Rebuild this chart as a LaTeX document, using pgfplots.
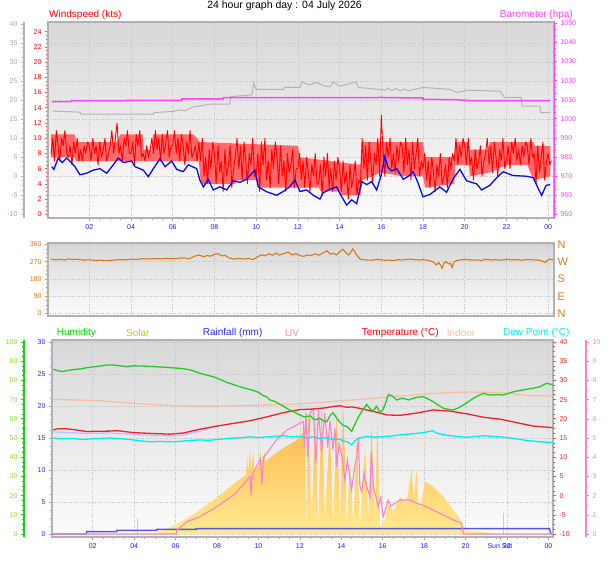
\documentclass[border=0pt]{standalone}
\usepackage{pgfplots}
\pgfplotsset{compat=1.18}
\usepackage{fontspec}
\setmainfont{Liberation Sans}
\definecolor{wsred}{RGB}{255,0,0}
\definecolor{wsband}{RGB}{255,105,105}
\definecolor{baro}{RGB}{255,64,255}
\definecolor{grayline}{RGB}{180,180,180}
\definecolor{graylab}{RGB}{170,170,170}
\definecolor{avgblue}{RGB}{10,10,235}
\definecolor{xlab}{RGB}{30,30,255}
\definecolor{dir}{RGB}{216,120,24}
\definecolor{hum}{RGB}{34,204,34}
\definecolor{humaxis}{RGB}{20,210,20}
\definecolor{humlab}{RGB}{140,220,40}
\definecolor{humleg}{RGB}{0,215,0}
\definecolor{solarleg}{RGB}{200,200,0}
\definecolor{solartop}{RGB}{255,178,70}
\definecolor{solarbot}{RGB}{255,234,145}
\definecolor{rain}{RGB}{85,85,225}
\definecolor{rainlab}{RGB}{40,40,255}
\definecolor{raintick}{RGB}{150,150,255}
\definecolor{uv}{RGB}{245,135,200}
\definecolor{temp}{RGB}{235,35,35}
\definecolor{indoor}{RGB}{245,190,165}
\definecolor{dew}{RGB}{0,238,238}
\definecolor{appt}{RGB}{190,190,255}
\definecolor{framec}{RGB}{178,178,178}
\definecolor{gridc}{RGB}{195,195,195}
\definecolor{bgtop}{RGB}{216,216,216}
\definecolor{bgbot}{RGB}{252,252,252}
\pgfplotsset{
  every axis/.append style={
    scale only axis, anchor=south west,
    /pgf/number format/assume math mode=true,
    /pgf/number format/1000 sep={},
    tick label style={font=\fontsize{7}{8}\selectfont},
    tick align=outside, major tick length=3pt, minor tick length=1.8pt,
  },
  panel/.style={
    axis background/.style={top color=bgtop, bottom color=bgbot},
    axis line style={draw=framec, line width=1.2pt},
    xtick pos=bottom, ytick pos=left,
    xmajorgrids, major grid style={draw=gridc, dotted, line width=0.6pt},
    xtick={2,4,...,24}, minor x tick num=3,
    xtick style={draw=gray!70, line width=0.6pt},
    x tick label style={text=xlab},
  },
  side/.style={hide x axis, y axis line style={-}},
}
\begin{document}
\begin{tikzpicture}
\useasboundingbox (0pt,0pt) rectangle (608pt,-561pt);

% ================= TOP PANEL =================
\begin{axis}[panel, at={(48pt,-218pt)}, width=506pt, height=196pt,
  xmin=0.02, xmax=24.28, ymin=-0.486, ymax=25.27,
  xticklabels={02,04,06,08,10,12,14,16,18,20,22,00},
  ytick={0,2,...,24}, minor y tick num=3,
  y tick label style={text=wsred},
  ytick style={draw=wsred!70, line width=0.6pt},
  extra y ticks={2.5,5,7.5,10,12.5,15,17.5,20,22.5}, extra y tick labels={},
  extra y tick style={grid=major, major tick length=0pt},
]
% gust band (envelope of the dense gust trace)
\addplot[draw=none, fill=wsband] coordinates {
(0.17,10.5)(1.3,10.5)(1.35,9.5)(3.3,9.5)(3.5,10.5)(4.55,10.5)(4.6,8.5)(5.0,8.5)(5.05,10.5)
(7.0,10.5)(7.3,9.5)(12.0,9.0)(12.1,7.5)(15.0,6.5)(15.1,9.5)(18.0,9.5)(18.1,7.5)(19.5,7.5)
(19.55,9.5)(20.2,9.5)(20.25,8.5)(21.1,8.5)(21.2,9.5)(23.3,9.5)(23.35,9)(24.1,9)
(24.1,5)(23.3,4.5)(23.0,6.5)(22.0,6.5)(21.2,5.5)(20.25,5)(20.2,6.5)(19.55,6.5)(19.5,4)
(18.1,3.5)(18.0,5)(17.0,5)(16.0,5.5)(15.1,4.5)(15.0,2.5)(14.1,2.5)(14.0,3)(13.1,3)
(13.0,3.5)(10.1,3.5)(10.0,4.5)(9.1,4.5)(9.0,4)(7.35,4)(7.25,7)(1.35,7)(1.3,7.5)(0.17,7.5)
};
\addplot[color=wsred, line width=0.9pt, line join=round, line cap=round] coordinates {
(0.17,8)(0.25,10)(0.33,7)(0.42,11)(0.50,9)(0.58,7)(0.67,10)(0.75,9)(0.83,11)(0.92,8)
(1.00,7.5)(1.08,9)(1.17,6.5)(1.25,9.5)(1.33,8)(1.42,10)(1.50,7)(1.58,8.5)(1.67,7)(1.75,9)(1.83,8)(1.92,9.5)
(2.00,9)(2.08,7)(2.17,10)(2.25,8)(2.33,9)(2.42,6.5)(2.50,9.5)(2.58,7.5)(2.67,8.5)(2.75,10)(2.83,7)(2.92,8)
(3.00,9)(3.08,11)(3.17,8)(3.25,10)(3.33,12)(3.42,8)(3.50,9)(3.58,7)(3.67,10)(3.75,9)(3.83,11)(3.92,8)
(4.00,8)(4.08,9.5)(4.17,6.5)(4.25,10.5)(4.33,9)(4.42,11)(4.50,7.5)(4.58,8)(4.67,7)(4.75,9)(4.83,7.5)(4.92,8.5)
(5.00,10)(5.08,8)(5.17,11)(5.25,8.5)(5.33,10)(5.42,7)(5.50,10.5)(5.58,8)(5.67,9.5)(5.75,11)(5.83,7.5)(5.92,9)
(6.00,9)(6.08,11)(6.17,8)(6.25,10)(6.33,7)(6.42,10.5)(6.50,9)(6.58,6.5)(6.67,9.5)(6.75,8)(6.83,11)(6.92,7.5)
(7.00,8)(7.08,9)(7.17,7)(7.25,9.5)(7.33,7)(7.42,10)(7.50,5)(7.58,7.5)(7.67,4)(7.75,8.5)(7.83,6)(7.92,9.5)
(8.00,8)(8.08,4)(8.17,9)(8.25,5.5)(8.33,7)(8.42,3)(8.50,8.5)(8.58,5)(8.67,6.5)(8.75,9)(8.83,3.5)(8.92,6)
(9.00,7.5)(9.08,10)(9.17,6)(9.25,9)(9.33,4.5)(9.42,9.5)(9.50,7)(9.58,4)(9.67,8)(9.75,6.5)(9.83,10)(9.92,5)
(10.00,5)(10.08,8)(10.17,3)(10.25,9.5)(10.33,6.5)(10.42,10)(10.50,4.5)(10.58,7)(10.67,3.5)(10.75,8.5)(10.83,6)(10.92,9.5)
(11.00,7.5)(11.08,4)(11.17,9)(11.25,5)(11.33,7)(11.42,3)(11.50,8)(11.58,5.5)(11.67,6.5)(11.75,8.5)(11.83,3.5)(11.92,6)
(12.00,6)(12.08,8)(12.17,4.5)(12.25,7)(12.33,3.5)(12.42,7.5)(12.50,5.5)(12.58,3)(12.67,6.5)(12.75,5)(12.83,8)(12.92,4)
(13.00,4)(13.08,6.5)(13.17,2.5)(13.25,7.5)(13.33,5)(13.42,8)(13.50,3.5)(13.58,6)(13.67,3)(13.75,7)(13.83,4.5)(13.92,7.5)
(14.00,6)(14.08,3)(14.17,7)(14.25,4)(14.33,5.5)(14.42,2)(14.50,6.5)(14.58,3.5)(14.67,5)(14.75,7)(14.83,2.5)(14.92,4.5)
(15.00,4)(15.08,10)(15.17,6)(15.25,9)(15.33,4.5)(15.42,9.5)(15.50,7)(15.58,4)(15.67,8)(15.75,6.5)(15.83,10)(15.92,5)
(16.00,13)(16.08,8.5)(16.17,5)(16.25,9.5)(16.33,7.5)(16.42,10)(16.50,6)(16.58,8)(16.67,5.5)(16.75,9)(16.83,7)(16.92,9.5)
(17.00,9)(17.08,5.5)(17.17,10)(17.25,6.5)(17.33,8.5)(17.42,4.5)(17.50,9.5)(17.58,6)(17.67,8)(17.75,10)(17.83,5)(17.92,7)
(18.00,6)(18.08,8)(18.17,4.5)(18.25,7)(18.33,3.5)(18.42,7.5)(18.50,5.5)(18.58,3)(18.67,6.5)(18.75,5)(18.83,8)(18.92,4)
(19.00,5)(19.08,6.5)(19.17,3.5)(19.25,7.5)(19.33,6)(19.42,8)(19.50,7)(19.58,10)(19.67,6.5)(19.75,9)(19.83,7.5)(19.92,10)
(20.00,9)(20.08,6.5)(20.17,10)(20.25,6.5)(20.33,7.5)(20.42,4.5)(20.50,8.5)(20.58,6)(20.67,7)(20.75,9)(20.83,5)(20.92,7)
(21.00,8)(21.08,10)(21.17,6.5)(21.25,9)(21.33,5.5)(21.42,9.5)(21.50,7.5)(21.58,5)(21.67,8.5)(21.75,7)(21.83,10)(21.92,6)
(22.00,7)(22.08,9)(22.17,6)(22.25,9.5)(22.33,8)(22.42,10)(22.50,7)(22.58,8.5)(22.67,6.5)(22.75,9)(22.83,7.5)(22.92,9.5)
(23.00,9)(23.08,6.5)(23.17,10)(23.25,7.5)(23.33,8)(23.42,4)(23.50,9)(23.58,5.5)(23.67,7.5)(23.75,9.5)(23.83,4.5)(23.92,7)
(24.00,8)(24.08,6.5)(24.15,7)
};
\addplot[avgblue, line width=1.3pt] coordinates {
(0.2,6.26)(0.3,5.9)(0.51,7.4)(0.7,6.8)(0.92,7.4)(1.1,6.9)(1.31,6.26)(1.55,5.2)
(1.87,5.4)(2.19,5.8)(2.51,6.0)(2.83,5.4)(3.15,6.5)(3.39,7.4)(3.63,6.8)(4.03,7.0)
(4.19,6.26)(4.59,5.8)(4.83,4.95)(5.07,6.0)(5.39,7.3)(5.63,6.26)(5.95,7.0)(6.19,5.9)
(6.5,5.6)(6.75,6.5)(7.15,6.0)(7.3,4.5)(7.47,3.6)(7.7,4.6)(7.94,3.2)(8.26,3.6)
(8.59,3.2)(8.9,4.4)(9.22,4.2)(9.54,4.6)(9.94,5.8)(10.1,3.6)(10.5,2.97)(10.98,2.5)
(11.3,3.0)(11.6,3.6)(11.86,4.5)(12.1,3.0)(12.42,3.2)(12.74,2.5)(13.06,2.0)(13.2,2.8)
(13.54,3.3)(13.86,3.6)(14.0,2.8)(14.34,1.2)(14.58,1.9)(14.82,1.4)(15.06,4.3)(15.3,3.9)
(15.54,4.3)(15.78,3.2)(16.0,5.2)(16.17,7.6)(16.33,6.1)(16.5,5.7)(16.74,6.0)(17.05,4.6)
(17.3,5.0)(17.53,5.6)(17.75,4.2)(18.0,2.3)(18.33,2.6)(18.8,3.6)(19.13,2.9)(19.45,4.7)
(19.77,5.9)(20.09,4.4)(20.57,4.0)(20.81,3.2)(21.2,3.8)(21.6,5.0)(21.85,5.6)(22.3,5.1)
(22.97,5.0)(23.29,4.8)(23.52,3.4)(23.69,2.5)(23.9,3.8)(24.1,3.9)
};
\end{axis}

% gray axis (left, -10..40)
\begin{axis}[side, at={(24pt,-218pt)}, width=530pt, height=196pt,
  xmin=-1.131, xmax=24.28, ymin=-11.05, ymax=40.53,
  axis y line*=left, y axis line style={draw=grayline, line width=1.6pt},
  ytick={-10,-5,...,40}, minor y tick num=3,
  y tick label style={text=graylab},
  ytick style={draw=grayline, line width=0.6pt},
]
\addplot[grayline, line width=1pt] coordinates {
(0.27,17.1)(1.55,16.8)(1.6,16.3)(5.07,16.3)(5.1,16.7)(6.03,17.0)(6.3,17.4)(6.6,17.2)
(6.99,18.2)(7.4,18.5)(7.79,18.9)(8.74,18.9)(8.78,20.9)(9.7,21.3)(9.8,21.5)(9.88,24.4)
(10.0,22.8)(11.3,22.8)(11.35,23.3)(12.1,23.3)(12.2,24.8)(12.5,24.0)(12.9,24.6)(13.2,23.8)
(13.54,23.5)(13.7,24.8)(14.0,23.6)(14.3,24.0)(14.8,24.8)(14.9,23.3)(15.5,23.0)(15.9,22.8)
(16.2,22.6)(16.35,23.1)(16.5,22.5)(16.7,23.0)(16.9,22.4)(17.1,22.9)(17.3,22.4)(17.5,22.7)
(18.0,23.3)(19.3,22.8)(19.6,22.0)(20.2,22.6)(21.7,22.3)(21.9,20.7)(22.7,20.7)(22.75,18.4)
(23.6,18.4)(23.65,16.7)(24.1,16.7)
};
\end{axis}

% barometer axis (right)
\begin{axis}[side, at={(48pt,-218pt)}, width=506pt, height=196pt,
  xmin=0.02, xmax=24.28, ymin=948.06, ymax=1050.68,
  axis y line*=right, y axis line style={draw=baro, line width=0.8pt},
  ytick={950,960,...,1050}, minor y tick num=2,
  y tick label style={text=baro},
  ytick style={draw=baro, line width=0.6pt},
]
\addplot[baro, line width=1.5pt] coordinates {
(0.2,1009.0)(1.15,1009.0)(1.16,1009.5)(4.5,1009.6)(6.43,1009.7)(6.44,1010.4)(8.42,1010.4)
(8.43,1011.1)(15.85,1011.1)(16.0,1011.3)(16.1,1011.1)(18.0,1010.9)(18.01,1010.2)
(19.6,1010.0)(20.3,1009.5)(24.1,1009.5)
};
\end{axis}

% ================= MIDDLE PANEL (wind direction) =================
\begin{axis}[panel, at={(48pt,-316pt)}, width=506pt, height=73pt,
  xmin=0.02, xmax=24.28, ymin=-13.0, ymax=367.8,
  xticklabels={}, xtick style={draw=none},
  ytick={0,90,...,360}, minor y tick num=3, ymajorgrids,
  y tick label style={text=dir},
  ytick style={draw=dir!80, line width=0.6pt},
]
\addplot[dir, line width=1.1pt] coordinates {
(0.15,284)(0.4,280)(0.6,283)(0.8,279)(1.0,285)(1.2,281)(1.45,283)(1.7,279)(2.0,280)
(2.3,277)(2.5,279)(2.75,276)(2.95,277)(3.2,279)(3.5,281)(3.75,280)(4.0,284)(4.3,282)
(4.55,286)(4.8,284)(5.1,287)(5.4,285)(5.7,288)(6.13,286)(6.4,290)(6.6,289)(6.8,286)
(7.0,297)(7.25,305)(7.5,296)(7.65,303)(7.8,299)(8.0,308)(8.18,312)(8.35,300)(8.5,304)
(8.7,290)(8.93,284)(9.2,288)(9.4,284)(9.65,287)(9.86,281)(10.1,298)(10.25,306)(10.42,301)
(10.6,311)(10.8,304)(10.95,316)(11.1,305)(11.3,312)(11.54,320)(11.7,306)(11.9,312)(12.1,302)
(12.29,298)(12.45,306)(12.6,302)(12.85,312)(13.0,304)(13.2,316)(13.4,327)(13.55,310)(13.7,314)
(13.85,306)(14.0,322)(14.16,335)(14.3,318)(14.44,305)(14.55,322)(14.63,337)(14.75,318)
(14.85,300)(15.0,283)(15.2,280)(15.5,278)(15.8,282)(16.0,280)(16.2,277)(16.4,279)(16.6,276)
(16.8,281)(17.0,279)(17.34,284)(17.6,281)(17.8,279)(18.0,281)(18.27,277)(18.45,270)
(18.55,264)(18.64,253)(18.75,266)(18.85,250)(18.92,236)(19.0,262)(19.1,270)(19.25,258)
(19.32,262)(19.4,240)(19.48,268)(19.6,276)(19.8,280)(20.14,282)(20.4,278)(20.6,280)
(20.8,277)(21.0,283)(21.25,279)(21.5,281)(21.75,278)(22.0,283)(22.25,280)(22.5,281)
(22.75,278)(23.0,282)(23.25,280)(23.5,279)(23.7,275)(23.87,266)(23.95,276)(24.05,283)(24.25,281)
};
\end{axis}

% right compass labels
\begin{axis}[side, at={(48pt,-316pt)}, width=506pt, height=73pt,
  xmin=0.02, xmax=24.28, ymin=-13.0, ymax=367.8,
  axis y line*=right, y axis line style={draw=none},
  ytick={0,90,180,270,360}, yticklabels={N,E,S,W,N},
  major tick length=0pt, minor tick length=0pt,
  y tick label style={text=dir, font=\fontsize{11}{12}\selectfont},
]
\end{axis}

% ================= BOTTOM PANEL =================
\begin{axis}[panel, at={(52pt,-537pt)}, width=501pt, height=197pt,
  xmin=0.034, xmax=24.22, ymin=-0.469, ymax=30.31,
  xticklabels={02,04,06,08,10,12,14,16,18,20,22,00},
  extra x ticks={21.66}, extra x tick labels={Sun Set},
  extra x tick style={grid=none},
  ytick={0,5,...,30}, minor y tick num=3, ymajorgrids,
  y tick label style={text=rainlab},
  ytick style={draw=raintick, line width=0.8pt},
]
\addplot[draw=none, top color=solartop, bottom color=solarbot] table {
4.9 0
5.0 0.1
5.5 0.7
6.0 1.5
6.5 2.4
7.0 3.4
7.5 4.5
8.0 5.7
8.5 7.0
9.0 8.3
9.4 9.2
9.45 12.5
9.5 9.4
9.6 13.3
9.65 9.6
9.75 12.8
9.8 10.0
10.0 10.6
10.1 13.0
10.15 10.9
10.3 12.8
10.35 11.3
10.5 11.8
11.0 13.0
11.5 14.0
12.0 15.0
12.1 15.6
12.25 16.25
12.3 1.15
12.41 18.9
12.57 1.7
12.73 19.4
12.89 1.4
13.05 19.9
13.21 2.7
13.45 16.25
13.61 1.15
13.78 18.9
13.94 2.2
14.1 19.6
14.26 1.7
14.42 11.0
14.58 1.15
14.74 14.7
14.9 1.4
15.14 13.1
15.3 2.7
15.46 16.8
15.63 2.2
15.74 16.8
15.87 1.15
16.11 2.2
16.27 4.8
16.51 3.5
16.83 5.8
17.15 5.0
17.39 10.0
17.5 5.3
17.63 10.0
17.75 3.7
17.93 6.1
18.04 8.2
18.44 7.4
18.93 5.8
19.41 3.75
19.73 2.5
19.89 1.15
20.05 0.6
20.7 0.36
21.66 0
};
\addplot[indoor, line width=1pt] coordinates {(4.17,0) (4.17,2.45)};
\addplot[indoor, line width=1pt] coordinates {(21.83,0) (21.83,3.3)};
\addplot[rain, line width=1.4pt] coordinates {
(0.05,0)(1.7,0)(1.7,0.36)(3.16,0.36)(3.16,0.57)(5.09,0.57)(5.09,0.73)(6.99,0.73)
(6.99,0.84)(24.05,0.84)(24.12,0)
};
\end{axis}

% UV axis (far right)
\begin{axis}[side, at={(52pt,-537pt)}, width=534pt, height=197pt,
  xmin=0.034, xmax=25.82, ymin=-0.156, ymax=10.104,
  axis y line*=right, y axis line style={draw=uv, line width=1.5pt},
  ytick={0,1,...,10}, minor y tick num=1,
  y tick label style={text=uv},
  ytick style={draw=uv, line width=0.6pt},
]
\addplot[uv, line width=1.1pt] coordinates {
(0.05,0)(6.05,0)(6.06,0.2)(6.54,0.64)(7.18,0.9)(7.99,1.42)(8.8,2.03)(9.3,2.6)(9.44,2.8)
(9.6,3.0)(9.65,2.0)(9.7,3.1)(10.1,3.9)(10.17,2.6)(10.25,4.0)(10.4,4.2)(10.88,4.9)(11.36,5.4)
(12.0,5.77)(12.17,5.85)(12.22,4.5)(12.3,6.3)(12.38,4.0)(12.5,6.3)(12.65,6.5)(12.78,3.7)
(12.9,6.46)(13.05,4.3)(13.2,6.3)(13.35,4.5)(13.46,5.9)(13.6,4.4)(13.7,5.5)(13.78,3.5)
(13.9,4.7)(14.05,3.9)(14.18,2.8)(14.3,3.85)(14.5,2.3)(14.65,3.5)(14.75,4.0)(14.83,5.0)
(14.9,2.5)(14.99,2.2)(15.1,3.16)(15.25,2.4)(15.39,1.94)(15.45,4.3)(15.55,2.5)(15.79,1.42)
(15.9,1.9)(16.03,0.9)(16.27,1.77)(16.4,1.45)(16.6,1.6)(16.84,1.77)(17.32,1.77)(17.64,1.6)
(17.96,1.5)(18.44,1.25)(18.93,0.99)(19.41,0.73)(19.81,0.56)(19.9,0)(24.15,0)
};
\end{axis}

% temperature axis (right)
\begin{axis}[side, at={(52pt,-537pt)}, width=501pt, height=197pt,
  xmin=0.034, xmax=24.22, ymin=-10.78, ymax=40.52,
  axis y line*=right, y axis line style={draw=none},
  ytick={-10,-5,...,40}, minor y tick num=3,
  y tick label style={text=temp},
  ytick style={draw=temp!80, line width=0.6pt},
]
\addplot[indoor, line width=1.3pt] coordinates {
(0.1,25.1)(2.35,24.7)(4.3,23.9)(6.5,23.3)(8.0,23.3)(9.6,23.5)(12.0,23.9)(13.6,24.5)
(15.2,25.2)(16.8,25.9)(18.4,26.6)(20.0,27.0)(21.7,26.8)(22.3,26.5)(23.0,26.0)(24.2,26.0)
};
\addplot[appt, line width=1.3pt] coordinates {
(0.1,16.6)(1.7,16.2)(2.83,16.3)(3.96,15.9)(4.77,15.7)(5.73,15.5)(6.37,15.8)(7.18,16.8)(7.8,17.8)
};
\addplot[temp, line width=1.3pt] coordinates {
(0.1,17.1)(0.3,17.4)(0.74,17.4)(1.2,17.1)(1.7,16.7)(2.83,16.8)(3.2,16.9)(3.96,16.4)
(4.77,16.2)(5.73,16.0)(6.37,16.3)(7.18,17.3)(7.99,18.1)(8.79,18.8)(9.6,19.5)(10.4,20.5)
(11.2,21.6)(12.0,22.4)(12.5,22.5)(12.97,22.7)(13.3,22.9)(13.6,23.2)(13.94,23.4)(14.26,23.0)
(14.5,23.1)(14.82,22.8)(15.39,22.1)(15.8,21.6)(16.2,21.0)(16.84,20.9)(17.64,21.5)(18.44,22.3)
(19.25,22.0)(20.06,21.3)(20.86,20.4)(21.67,19.9)(22.47,19.0)(23.27,18.1)(24.2,17.7)
};
\addplot[dew, line width=1.3pt] coordinates {
(0.1,15.0)(0.5,14.8)(1.0,14.9)(1.5,14.6)(2.0,14.8)(2.83,15.0)(3.4,14.8)(3.96,14.5)
(4.4,14.2)(4.77,14.0)(5.3,14.1)(5.73,14.0)(6.2,14.1)(6.54,14.3)(7.18,14.5)(7.6,14.4)
(7.99,14.6)(8.4,14.8)(8.79,15.0)(9.2,15.1)(9.6,15.3)(10.0,15.1)(10.4,15.3)(10.8,15.4)
(11.2,15.6)(11.6,15.3)(12.0,15.4)(12.3,15.0)(12.6,15.3)(12.97,14.9)(13.3,15.1)(13.6,14.6)
(13.9,14.7)(14.1,14.2)(14.3,14.0)(14.5,13.2)(14.65,14.2)(14.8,14.9)(15.2,15.4)(15.6,15.2)
(16.0,15.4)(16.4,15.5)(16.8,15.8)(17.2,16.0)(17.6,16.2)(18.0,16.4)(18.4,16.9)(18.6,16.3)
(18.9,15.9)(19.4,15.5)(19.8,15.3)(20.1,15.2)(20.5,15.4)(20.9,15.6)(21.3,15.4)(21.7,15.3)
(22.3,14.9)(22.7,14.6)(23.0,14.3)(23.3,14.2)(23.6,14.0)(24.0,13.9)(24.2,13.8)
};
\end{axis}

% humidity axis (left, green)
\begin{axis}[side, at={(24pt,-537pt)}, width=529pt, height=197pt,
  xmin=-1.318, xmax=24.22, ymin=-1.5625, ymax=101.04,
  axis y line*=left, y axis line style={draw=humaxis, line width=2.4pt},
  ytick={0,10,...,100}, minor y tick num=3,
  y tick label style={text=humlab},
  ytick style={draw=humaxis, line width=0.7pt},
]
\addplot[hum, line width=1.3pt] coordinates {
(0.1,85.8)(0.35,84.9)(0.58,84.7)(0.85,85.3)(1.2,85.8)(1.45,86.0)(1.7,86.6)(2.0,87.0)
(2.35,87.5)(2.67,88.0)(3.0,88.0)(3.3,87.6)(3.64,87.2)(3.95,87.6)(4.28,87.5)(4.6,87.4)
(4.9,87.2)(5.2,87.0)(5.57,86.8)(5.9,86.5)(6.2,86.3)(6.54,85.8)(6.85,85.0)(7.18,83.7)
(7.5,82.8)(7.82,81.9)(8.15,80.5)(8.47,79.0)(8.8,77.8)(9.1,76.7)(9.4,75.8)(9.75,74.8)
(10.0,73.8)(10.24,72.0)(10.4,71.5)(10.56,69.8)(10.8,69.0)(11.04,67.6)(11.25,66.2)(11.5,64.6)
(11.75,63.3)(12.0,62.0)(12.2,61.0)(12.5,61.5)(12.7,59.5)(12.97,60.2)(13.15,58.8)(13.3,58.5)
(13.45,61.5)(13.6,63.2)(13.8,60.0)(13.95,58.0)(14.1,56.5)(14.3,55.8)(14.5,53.5)(14.65,57.0)
(14.83,61.0)(15.0,64.0)(15.23,67.5)(15.4,65.0)(15.55,64.2)(15.7,66.5)(15.87,63.5)(16.0,64.5)
(16.15,68.5)(16.27,72.6)(16.45,72.0)(16.68,69.8)(16.85,70.5)(17.0,70.7)(17.25,69.8)(17.48,70.7)
(17.7,71.3)(17.96,71.5)(18.2,70.3)(18.44,68.9)(18.7,67.0)(18.93,65.5)(19.2,64.8)(19.41,64.6)
(19.65,65.7)(19.89,67.2)(20.15,69.0)(20.38,70.7)(20.6,72.0)(20.86,73.3)(21.0,72.8)(21.18,72.4)
(21.5,72.6)(21.83,72.4)(22.1,73.4)(22.31,74.1)(22.6,74.7)(22.95,75.4)(23.3,76.0)(23.6,76.7)
(23.8,78.0)(23.92,78.5)(24.1,78.0)(24.2,77.9)
};
\end{axis}

% ================= TEXTS =================
\node[font=\fontsize{10.5}{12}\selectfont, inner sep=0pt] at (284.5pt,-6pt) {24 hour graph day : 04 July 2026};
\node[anchor=west, text=wsred, font=\fontsize{10}{12}\selectfont, inner sep=0pt] at (49pt,-15pt) {Windspeed (kts)};
\node[anchor=east, text=baro, font=\fontsize{10}{12}\selectfont, inner sep=0pt] at (573pt,-15pt) {Barometer (hpa)};
\begin{scope}[every node/.style={anchor=west, inner sep=0pt, font=\fontsize{10}{12}\selectfont}]
\node[text=humleg] at (56.7pt,-333pt) {Humidity};
\node[text=solarleg] at (126pt,-333pt) {Solar};
\node[text=rainlab] at (202.7pt,-333pt) {Rainfall (mm)};
\node[text=uv] at (285pt,-333pt) {UV};
\node[text=wsred] at (361.7pt,-333pt) {Temperature (°C)};
\node[text=indoor] at (446.7pt,-333pt) {Indoor};
\node[text=dew] at (503pt,-333pt) {Dew Point (°C)};
\end{scope}
\end{tikzpicture}
\end{document}
